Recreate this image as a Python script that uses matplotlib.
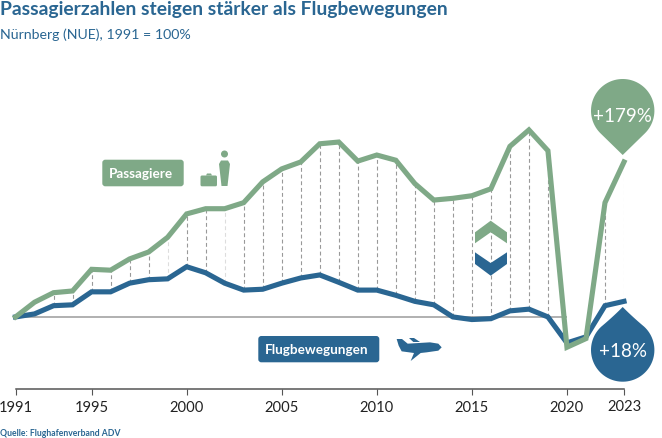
import numpy as np
import matplotlib
matplotlib.use("Agg")
import matplotlib.pyplot as plt
from matplotlib.patches import Polygon, Circle, FancyBboxPatch

years = list(range(1991, 2024))
passagiere = [100, 117, 128, 130, 155, 154, 167, 175, 192, 219, 225, 225, 232, 256, 271, 279, 300,
              302, 280, 287, 281, 254, 235, 237, 240, 248, 297, 316, 292, 65, 75, 232, 279]
fluege = [100, 103.5, 113, 114, 129, 129, 139, 143, 144, 158, 151, 139, 131, 132, 139, 145, 148.5,
          140, 131, 131, 125, 118, 114, 100, 97, 98, 107, 109, 100, 70, 77, 113, 118]
tick_years = [1991, 1995, 2000, 2005, 2010, 2015, 2020, 2023]
no_drop = [1991, 1992, 2020, 2021]
light_drop = [1999, 2002, 2023]

GREEN = "#7FA987"
BLUE = "#2A6692"
FONT = "Lato"
W, H = 662, 439

fig = plt.figure(figsize=(W / 100, H / 100), dpi=100)
ax = fig.add_axes([15.5 / W, 1 - 389.8 / H, 608.5 / W, 329 / H])
ax.set_xlim(1991, 2023)
ax.set_ylim(17, 397)
for s in ["top", "left", "right"]:
    ax.spines[s].set_visible(False)
ax.spines["bottom"].set_color("#555555")
ax.spines["bottom"].set_linewidth(1.1)
ax.set_yticks([])
ax.set_xticks(tick_years)
ax.tick_params(axis="x", length=4.5, width=0.8, color="#555555", pad=3.6)
ax.set_xticklabels(tick_years, fontsize=10.6, family=FONT, color="#222222")
ax.xaxis.get_major_ticks()[-1].set_pad(2.6)

ax.hlines(100, 1991, 2020, color="#aaaaaa", lw=1.3, zorder=1)
for y, p, f in zip(years, passagiere, fluege):
    if y in no_drop:
        continue
    c = "#dddddd" if y in light_drop else "#999999"
    ax.plot([y, y], [f, p], color=c, lw=0.8, ls=(0, (3.5, 2.5)), zorder=1)
ax.plot(years, fluege, color=BLUE, lw=3.7, solid_joinstyle="miter", clip_on=False, zorder=3)
ax.plot(years, passagiere, color=GREEN, lw=3.7, solid_joinstyle="miter", clip_on=False, zorder=4)

# overlay in pixel coordinates for the decorations
ov = fig.add_axes([0, 0, 1, 1], facecolor="none")
ov.set_xlim(0, W)
ov.set_ylim(H, 0)
ov.axis("off")


def drop(cx, cy, r, tip_y, color, bend=0.0):
    d = abs(tip_y - cy)
    a = np.arccos(r / d)
    if tip_y > cy:
        t = np.linspace(np.pi / 2 + a, 2.5 * np.pi - a, 80)
    else:
        t = np.linspace(-np.pi / 2 + a, 1.5 * np.pi - a, 80)
    pts = np.column_stack([cx + r * np.cos(t), cy + r * np.sin(t)])
    # sides from the tip to the circle, pulled in a bit by bend
    tip = np.array([cx, tip_y])
    s = np.linspace(0, 1, 20)[:, None]
    c0 = (tip + pts[0]) / 2 + [bend * np.sign(cx - pts[0][0]), 0]
    c1 = (tip + pts[-1]) / 2 + [bend * np.sign(cx - pts[-1][0]), 0]
    side0 = (1 - s) ** 2 * tip + 2 * s * (1 - s) * c0 + s ** 2 * pts[0]
    side1 = (1 - s) ** 2 * pts[-1] + 2 * s * (1 - s) * c1 + s ** 2 * tip
    ov.add_patch(Polygon(np.vstack([side0, pts, side1]), closed=True, fc=color, ec="none", zorder=6))


def badge(x0, y0, x1, y1, color, label):
    ov.add_patch(FancyBboxPatch((x0 + 3, y0 + 3), x1 - x0 - 6, y1 - y0 - 6, boxstyle="round,pad=3,rounding_size=3",
                                fc=color, ec="none"))
    ov.text(x0 + 7, (y0 + y1) / 2, label, color="white", fontsize=9.7, family=FONT, weight="bold", va="center")


drop(622.7, 111.7, 31.7, 156, GREEN)
drop(622.7, 351, 31.7, 308, BLUE, bend=1)
ov.text(622.7, 116.5, "+179%", color="white", fontsize=13.5, family="Lato", ha="center", va="center", zorder=7)
ov.text(622.7, 351.5, "+18%", color="white", fontsize=13.5, family="Lato", ha="center", va="center", zorder=7)

badge(102.3, 160.7, 183.7, 187.3, GREEN, "Passagiere")
badge(258.3, 337, 379.3, 363.3, BLUE, "Flugbewegungen")

# chevrons
ov.add_patch(Polygon([(475, 233.3), (490.7, 221.7), (507, 233.3), (507, 244.3), (490.7, 233.3), (475, 244.3)],
                     fc=GREEN, ec="none", zorder=2))
ov.add_patch(Polygon([(475, 253.3), (490.7, 264), (507, 253.3), (507, 265), (490.7, 276.7), (475, 265)],
                     fc=BLUE, ec="none", zorder=2))

# person + suitcase
ov.add_patch(Circle((224.5, 155), 3.5, fc=GREEN, ec="none"))
ov.add_patch(Polygon([(219, 165), (221, 161.5), (228, 161.5), (230, 165), (227.5, 187), (221.5, 187)], fc=GREEN, ec="none"))
ov.add_patch(FancyBboxPatch((201.5, 177.5), 14.5, 8.8, boxstyle="round,pad=1,rounding_size=1.5", fc=GREEN, ec="none"))
ov.add_patch(Polygon([(206, 176.5), (207, 174.5), (211, 174.5), (212, 176.5)], fc=GREEN, ec="none"))

# plane
plane = [(470, 60), (486, 60), (503, 74), (570, 70), (595, 74), (605, 85), (595, 95), (560, 100), (542, 102),
         (512, 126), (522, 102), (485, 97), (476, 80)]
wing = [(507, 57), (522, 57), (540, 69), (520, 69)]
ov.add_patch(Polygon([(240 + x / 3, 320 + y / 3) for x, y in plane], fc=BLUE, ec="none"))
ov.add_patch(Polygon([(240 + x / 3, 320 + y / 3) for x, y in wing], fc=BLUE, ec="none"))

ov.text(0, 9, "Passagierzahlen steigen stärker als Flugbewegungen", color=BLUE, fontsize=13.85, family=FONT,
        weight="bold", va="center")
ov.text(0, 35, "Nürnberg (NUE), 1991 = 100%", color=BLUE, fontsize=10.15, family=FONT, va="center")
ov.text(0, 434, "Quelle: Flughafenverband ADV", color=BLUE, fontsize=6.2, family=FONT, weight="bold", va="center")

fig.savefig("out.png", dpi=100)
